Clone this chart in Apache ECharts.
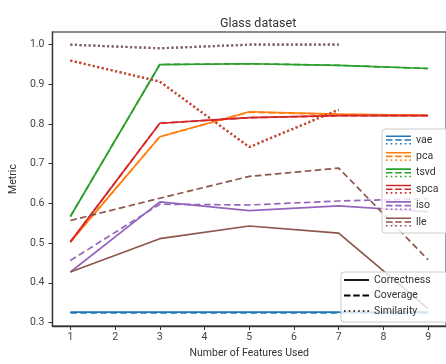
<!DOCTYPE html>
<html><head><meta charset="utf-8">
<script src="https://cdn.jsdelivr.net/npm/echarts@6/dist/echarts.min.js"></script>
<style>html,body{margin:0;padding:0;background:#fff}#chart{width:446px;height:364px}</style>
</head><body><div id="chart"></div>
<script>
// Feature counts on the x axis
const features = [1, 3, 5, 7, 9];
const methods = ['vae', 'pca', 'tsvd', 'spca', 'iso', 'lle'];
const metricNames = ['Correctness', 'Coverage', 'Similarity'];
const xTicks = [1, 2, 3, 4, 5, 6, 7, 8, 9];
const yTicks = [0.3, 0.4, 0.5, 0.6, 0.7, 0.8, 0.9, 1.0];

// Correctness per method
const vaeCorrectness  = [0.326, 0.326, 0.326, 0.326, 0.326];
const pcaCorrectness  = [0.503, 0.768, 0.831, 0.825, 0.822];
const tsvdCorrectness = [0.567, 0.950, 0.952, 0.948, 0.940];
const spcaCorrectness = [0.503, 0.802, 0.816, 0.821, 0.821];
const isoCorrectness  = [0.427, 0.604, 0.582, 0.594, 0.579];
const lleCorrectness  = [0.427, 0.511, 0.543, 0.525, 0.335];

// Coverage per method
const vaeCoverage  = [0.324, 0.324, 0.324, 0.324, 0.324];
const pcaCoverage  = [0.503, 0.768, 0.830, 0.824, 0.822];
const tsvdCoverage = [0.567, 0.950, 0.952, 0.948, 0.940];
const spcaCoverage = [0.503, 0.802, 0.816, 0.821, 0.821];
const isoCoverage  = [0.456, 0.598, 0.596, 0.606, 0.612];
const lleCoverage  = [0.557, 0.613, 0.668, 0.689, 0.458];

// Similarity per method (not measured at 9 features)
const vaeSimilarity  = [0.960, 0.907, 0.742, 0.836, null];
const pcaSimilarity  = [0.960, 0.907, 0.742, 0.836, null];
const tsvdSimilarity = [1.0, 0.991, 1.0, 1.0, null];
const spcaSimilarity = [0.960, 0.907, 0.742, 0.836, null];
const isoSimilarity  = [1.0, 0.991, 1.0, 1.0, null];
const lleSimilarity  = [1.0, 0.991, 1.0, 1.0, null];

const colors = {vae: '#1f77b4', pca: '#ff7f0e', tsvd: '#2ca02c', spca: '#d62728', iso: '#9467bd', lle: '#8c564b'};
const values = {
  vae:  [vaeCorrectness, vaeCoverage, vaeSimilarity],
  pca:  [pcaCorrectness, pcaCoverage, pcaSimilarity],
  tsvd: [tsvdCorrectness, tsvdCoverage, tsvdSimilarity],
  spca: [spcaCorrectness, spcaCoverage, spcaSimilarity],
  iso:  [isoCorrectness, isoCoverage, isoSimilarity],
  lle:  [lleCorrectness, lleCoverage, lleSimilarity]
};

const lineTypes = ['solid', [6.5, 3.5], [2, 2.6]];
const lineWidths = [1.7, 1.7, 2.2];
const lineOpacity = [1, 1, 0.75];

const series = [];
methods.forEach(m => {
  values[m].forEach((arr, k) => {
    series.push({
      name: m,
      type: 'line',
      data: features.map((f, i) => [f, arr[i]]),
      showSymbol: false,
      connectNulls: false,
      color: colors[m],
      lineStyle: {color: colors[m], width: lineWidths[k], type: lineTypes[k], opacity: lineOpacity[k]},
      emphasis: {disabled: true},
      animation: false
    });
  });
});
// Style key entries
metricNames.forEach(n => {
  series.push({name: n, type: 'line', data: [], color: '#000', animation: false});
});

// Legend icons: solid / dashed / dotted stack, and single strokes
const stackIcon = 'path://M0,0H25V1.6H0Z M0,3.7H6.5V5.3H0Z M9.2,3.7H15.7V5.3H9.2Z M18.5,3.7H25V5.3H18.5Z ' +
  'M0,7.4H1.6V9H0Z M4.7,7.4H6.3V9H4.7Z M9.4,7.4H11V9H9.4Z M14.1,7.4H15.7V9H14.1Z M18.8,7.4H20.4V9H18.8Z M23.4,7.4H25V9H23.4Z';
const solidIcon = 'path://M0,0H25V1.8H0Z';
const dashIcon = 'path://M0,0H6.5V1.8H0Z M9.2,0H15.7V1.8H9.2Z M18.5,0H25V1.8H18.5Z';
const dotIcon = 'path://M0,0H1.6V1.6H0Z M4.7,0H6.3V1.6H4.7Z M9.4,0H11V1.6H9.4Z M14.1,0H15.7V1.6H14.1Z M18.8,0H20.4V1.6H18.8Z M23.4,0H25V1.6H23.4Z';
const styleIcons = [solidIcon, dashIcon, dotIcon];

const font = 'Roboto, "DejaVu Sans", sans-serif';
const chart = echarts.init(document.getElementById('chart'), null, {renderer: 'canvas'});
chart.setOption({
  backgroundColor: '#fff',
  animation: false,
  title: {
    text: 'Glass dataset', left: 215, top: 12,
    textStyle: {fontFamily: font, fontSize: 12.5, fontWeight: 'normal', color: '#333'}
  },
  grid: {left: 49, top: 32, width: 405, height: 298, show: true, borderColor: '#666', borderWidth: 1.3, backgroundColor: 'transparent'},
  xAxis: {
    type: 'value', min: 0.6, max: 9.4,
    name: 'Number of Features Used', nameLocation: 'middle', nameGap: 22,
    nameTextStyle: {fontFamily: font, fontSize: 10.5, color: '#333'},
    axisLine: {show: true, lineStyle: {color: '#333', width: 1.3}},
    axisTick: {show: true, length: 4, customValues: xTicks, lineStyle: {color: '#333'}},
    axisLabel: {customValues: xTicks, fontFamily: font, fontSize: 10.5, color: '#444', margin: 6},
    splitLine: {show: false}
  },
  yAxis: {
    type: 'value', min: 0.291, max: 1.032,
    name: 'Metric', nameLocation: 'middle', nameGap: 30,
    nameTextStyle: {fontFamily: font, fontSize: 10.5, color: '#333'},
    axisLine: {show: true, lineStyle: {color: '#333', width: 1.3}},
    axisTick: {show: true, length: 4, customValues: yTicks, lineStyle: {color: '#333'}},
    axisLabel: {customValues: yTicks, formatter: v => v.toFixed(1), fontFamily: font, fontSize: 10.5, color: '#444', margin: 8},
    splitLine: {show: false}
  },
  legend: [
    {
      data: methods.map(m => ({name: m, icon: stackIcon})),
      orient: 'vertical', left: 382, top: 129,
      itemWidth: 25, itemHeight: 9, itemGap: 4.4,
      padding: [5, 30, 5, 4],
      backgroundColor: 'rgba(255,255,255,0.8)', borderColor: '#ccc', borderWidth: 1, borderRadius: 3,
      textStyle: {fontFamily: font, fontSize: 10.5, lineHeight: 12, color: '#333'},
      selectedMode: false
    },
    {
      data: metricNames.map((n, k) => ({name: n, icon: styleIcons[k]})),
      orient: 'vertical', left: 341, top: 272,
      itemWidth: 25, itemHeight: 10, itemGap: 3.5,
      padding: [2, 30, 5, 3],
      backgroundColor: 'rgba(255,255,255,0.8)', borderColor: '#ccc', borderWidth: 1, borderRadius: 3,
      textStyle: {fontFamily: font, fontSize: 10.5, lineHeight: 12, color: '#333'},
      selectedMode: false
    }
  ],
  series: series
});
</script></body></html>
